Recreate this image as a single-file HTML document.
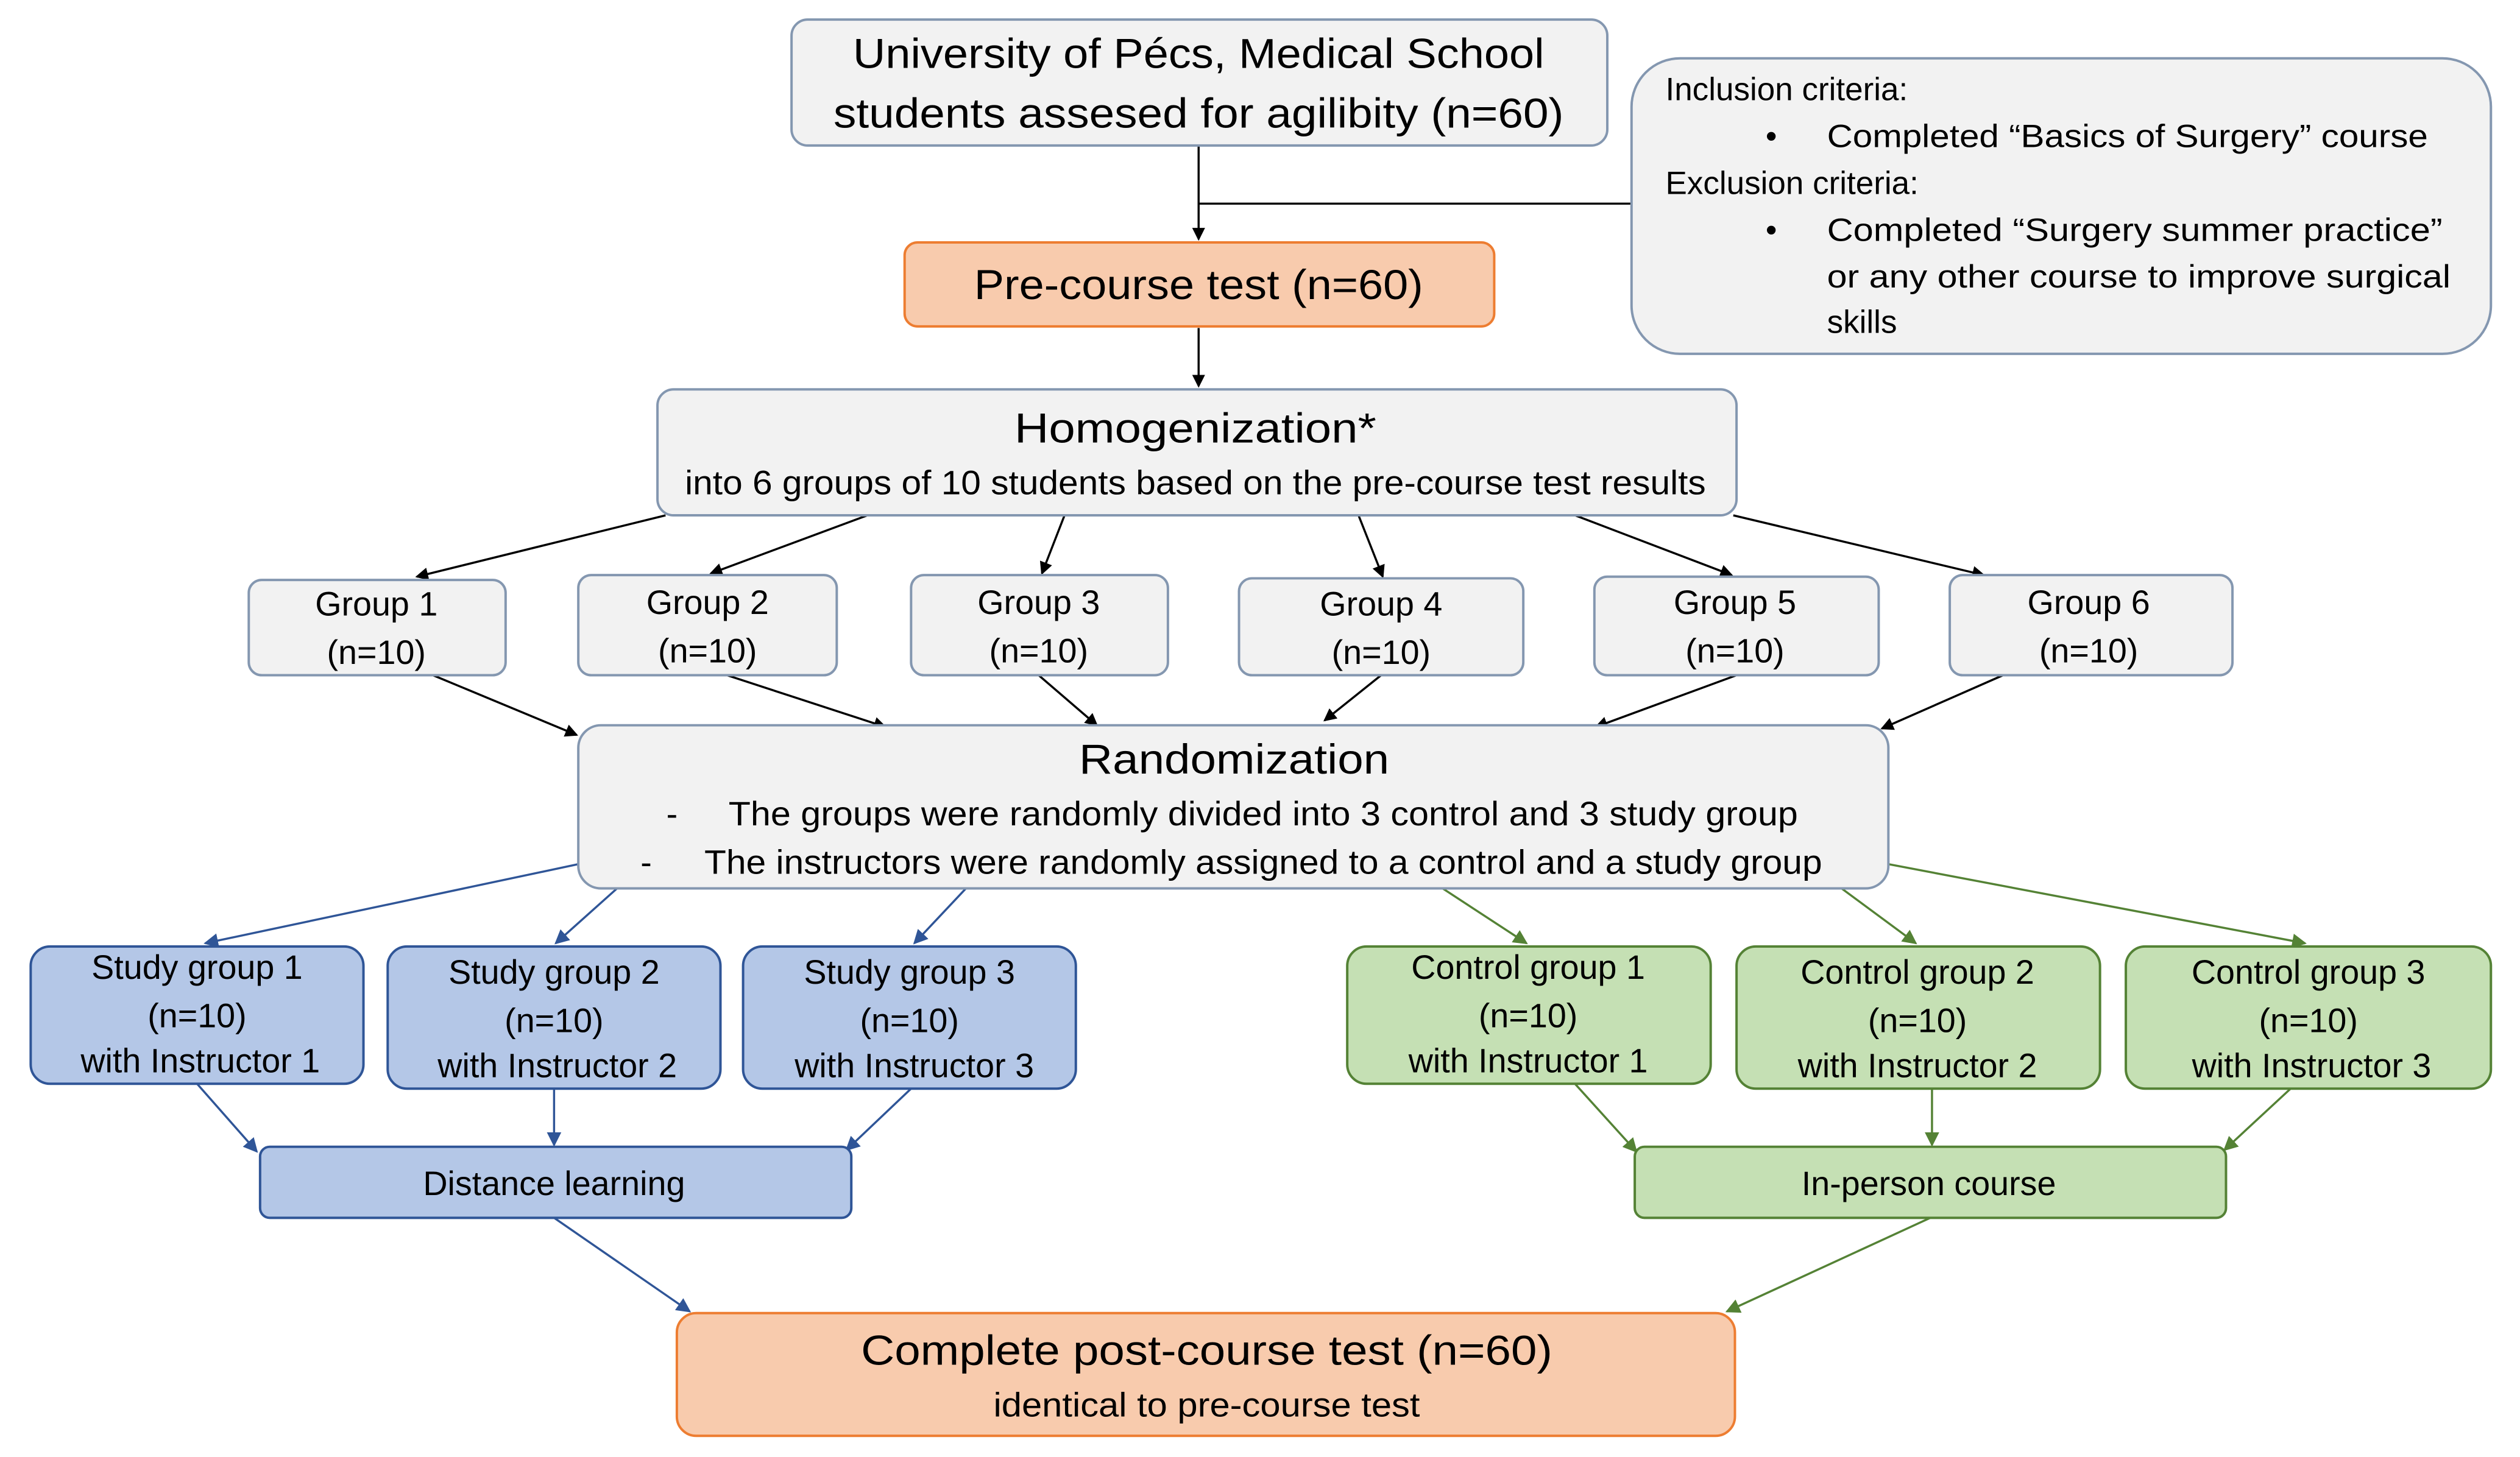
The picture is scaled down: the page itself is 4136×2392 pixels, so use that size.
<!DOCTYPE html>
<html><head><meta charset="utf-8"><style>
html,body{margin:0;padding:0;background:#fff;}
svg{display:block;}
text{font-family:"Liberation Sans Narrow","Liberation Sans",sans-serif;fill:#000;text-anchor:middle;}
</style></head><body>
<svg width="4136" height="2392" viewBox="0 0 1560 902" xmlns="http://www.w3.org/2000/svg">
<defs>
<marker id="ak" markerWidth="8" markerHeight="8" refX="7" refY="4" orient="auto" markerUnits="userSpaceOnUse"><path d="M0,0 L8,4 L0,8z" fill="#000"/></marker>
<marker id="ab" markerWidth="9" markerHeight="9" refX="8" refY="4.5" orient="auto" markerUnits="userSpaceOnUse"><path d="M0,0 L9,4.5 L0,9z" fill="#2f5597"/></marker>
<marker id="ag" markerWidth="9" markerHeight="9" refX="8" refY="4.5" orient="auto" markerUnits="userSpaceOnUse"><path d="M0,0 L9,4.5 L0,9z" fill="#548235"/></marker>
</defs>
<rect width="1560" height="902" fill="#fff"/>
<!-- black connectors -->
<g stroke="#000" stroke-width="1.3" fill="none">
<line x1="742" y1="90" x2="742" y2="148" marker-end="url(#ak)"/>
<line x1="742" y1="126" x2="1010" y2="126"/>
<line x1="742" y1="203" x2="742" y2="239" marker-end="url(#ak)"/>
<line x1="412" y1="319" x2="258" y2="357" marker-end="url(#ak)"/>
<line x1="537" y1="319" x2="440" y2="355" marker-end="url(#ak)"/>
<line x1="659" y1="319" x2="645" y2="355" marker-end="url(#ak)"/>
<line x1="841" y1="319" x2="856" y2="357" marker-end="url(#ak)"/>
<line x1="975" y1="319" x2="1072" y2="356" marker-end="url(#ak)"/>
<line x1="1073" y1="319" x2="1228" y2="356" marker-end="url(#ak)"/>
<line x1="268" y1="418" x2="357" y2="455" marker-end="url(#ak)"/>
<line x1="450" y1="418" x2="548" y2="450" marker-end="url(#ak)"/>
<line x1="643" y1="418" x2="679" y2="449" marker-end="url(#ak)"/>
<line x1="855" y1="418" x2="820" y2="446" marker-end="url(#ak)"/>
<line x1="1075" y1="418" x2="988" y2="450" marker-end="url(#ak)"/>
<line x1="1240" y1="418" x2="1165" y2="451" marker-end="url(#ak)"/>
</g>
<g stroke="#2f5597" stroke-width="1.3" fill="none">
<line x1="358" y1="535" x2="127" y2="584" marker-end="url(#ab)"/>
<line x1="382" y1="550" x2="344" y2="584" marker-end="url(#ab)"/>
<line x1="598" y1="550" x2="566" y2="584" marker-end="url(#ab)"/>
<line x1="122" y1="671" x2="159" y2="713" marker-end="url(#ab)"/>
<line x1="343" y1="674" x2="343" y2="709" marker-end="url(#ab)"/>
<line x1="564" y1="674" x2="524" y2="712" marker-end="url(#ab)"/>
<line x1="343" y1="754" x2="427" y2="812" marker-end="url(#ab)"/>
</g>
<g stroke="#548235" stroke-width="1.3" fill="none">
<line x1="893" y1="550" x2="945" y2="584" marker-end="url(#ag)"/>
<line x1="1140" y1="550" x2="1186" y2="584" marker-end="url(#ag)"/>
<line x1="1169" y1="535" x2="1427" y2="584" marker-end="url(#ag)"/>
<line x1="975" y1="671" x2="1013" y2="713" marker-end="url(#ag)"/>
<line x1="1196" y1="674" x2="1196" y2="709" marker-end="url(#ag)"/>
<line x1="1418" y1="674" x2="1377" y2="712" marker-end="url(#ag)"/>
<line x1="1195" y1="754" x2="1069" y2="812" marker-end="url(#ag)"/>
</g>
<!-- boxes -->
<g stroke-width="1.5">
<rect x="490" y="12" width="505" height="78" rx="10" fill="#f2f2f2" stroke="#8497b0"/>
<rect x="1010" y="36" width="532" height="183" rx="30" fill="#f2f2f2" stroke="#8497b0"/>
<rect x="560" y="150" width="365" height="52" rx="8" fill="#f8cbad" stroke="#ed7d31"/>
<rect x="407" y="241" width="668" height="78" rx="10" fill="#f2f2f2" stroke="#8497b0"/>
<rect x="154" y="359" width="159" height="59" rx="8" fill="#f2f2f2" stroke="#8497b0"/>
<rect x="358" y="356" width="160" height="62" rx="8" fill="#f2f2f2" stroke="#8497b0"/>
<rect x="564" y="356" width="159" height="62" rx="8" fill="#f2f2f2" stroke="#8497b0"/>
<rect x="767" y="358" width="176" height="60" rx="8" fill="#f2f2f2" stroke="#8497b0"/>
<rect x="987" y="357" width="176" height="61" rx="8" fill="#f2f2f2" stroke="#8497b0"/>
<rect x="1207" y="356" width="175" height="62" rx="8" fill="#f2f2f2" stroke="#8497b0"/>
<rect x="358" y="449" width="811" height="101" rx="14" fill="#f2f2f2" stroke="#8497b0"/>
<rect x="19" y="586" width="206" height="85" rx="12" fill="#b4c7e7" stroke="#2f5597"/>
<rect x="240" y="586" width="206" height="88" rx="12" fill="#b4c7e7" stroke="#2f5597"/>
<rect x="460" y="586" width="206" height="88" rx="12" fill="#b4c7e7" stroke="#2f5597"/>
<rect x="834" y="586" width="225" height="85" rx="12" fill="#c5e0b4" stroke="#548235"/>
<rect x="1075" y="586" width="225" height="88" rx="12" fill="#c5e0b4" stroke="#548235"/>
<rect x="1316" y="586" width="226" height="88" rx="12" fill="#c5e0b4" stroke="#548235"/>
<rect x="161" y="710" width="366" height="44" rx="6" fill="#b4c7e7" stroke="#2f5597"/>
<rect x="1012" y="710" width="366" height="44" rx="6" fill="#c5e0b4" stroke="#548235"/>
<rect x="419" y="813" width="655" height="76" rx="12" fill="#f8cbad" stroke="#ed7d31"/>
</g>
<!-- text -->
<g font-size="26">
<text x="742" y="42" textLength="428" lengthAdjust="spacingAndGlyphs">University of Pécs, Medical School</text>
<text x="742" y="79" textLength="452" lengthAdjust="spacingAndGlyphs">students assesed for agilibity (n=60)</text>
<text x="742" y="185" textLength="278" lengthAdjust="spacingAndGlyphs">Pre-course test (n=60)</text>
<text x="740" y="274" textLength="224" lengthAdjust="spacingAndGlyphs">Homogenization*</text>
<text x="764" y="479" textLength="192" lengthAdjust="spacingAndGlyphs">Randomization</text>
<text x="747" y="845" textLength="428" lengthAdjust="spacingAndGlyphs">Complete post-course test  (n=60)</text>
</g>
<g font-size="21">
<text x="740" y="306" textLength="632" lengthAdjust="spacingAndGlyphs">into 6 groups of 10 students based on the pre-course test results</text>
<text x="233" y="381">Group 1</text><text x="233" y="411">(n=10)</text>
<text x="438" y="380">Group 2</text><text x="438" y="410">(n=10)</text>
<text x="643" y="380">Group 3</text><text x="643" y="410">(n=10)</text>
<text x="855" y="381">Group 4</text><text x="855" y="411">(n=10)</text>
<text x="1074" y="380">Group 5</text><text x="1074" y="410">(n=10)</text>
<text x="1293" y="380">Group 6</text><text x="1293" y="410">(n=10)</text>
<text x="416" y="511">-</text>
<text x="782" y="511" textLength="662" lengthAdjust="spacingAndGlyphs">The groups were randomly divided into 3 control and 3 study group</text>
<text x="400" y="541">-</text>
<text x="782" y="541" textLength="692" lengthAdjust="spacingAndGlyphs">The instructors were randomly assigned to a control and a study group</text>
<text x="122" y="606">Study  group 1</text><text x="122" y="636">(n=10)</text><text x="124" y="664">with Instructor 1</text>
<text x="343" y="609">Study group 2</text><text x="343" y="639">(n=10)</text><text x="345" y="667">with Instructor 2</text>
<text x="563" y="609">Study  group 3</text><text x="563" y="639">(n=10)</text><text x="566" y="667">with Instructor 3</text>
<text x="946" y="606">Control  group 1</text><text x="946" y="636">(n=10)</text><text x="946" y="664">with Instructor 1</text>
<text x="1187" y="609">Control group 2</text><text x="1187" y="639">(n=10)</text><text x="1187" y="667">with Instructor 2</text>
<text x="1429" y="609">Control  group 3</text><text x="1429" y="639">(n=10)</text><text x="1431" y="667">with Instructor 3</text>
<text x="343" y="740">Distance learning</text>
<text x="1194" y="740">In-person course</text>
<text x="747" y="877" textLength="264" lengthAdjust="spacingAndGlyphs">identical to pre-course test</text>
</g>
<g font-size="20" style="text-anchor:start">
<text x="1031" y="62" style="text-anchor:start">Inclusion criteria:</text>
<text x="1093" y="91" style="text-anchor:start">•</text>
<text x="1131" y="91" style="text-anchor:start" textLength="372" lengthAdjust="spacingAndGlyphs">Completed “Basics of Surgery” course</text>
<text x="1031" y="120" style="text-anchor:start">Exclusion criteria:</text>
<text x="1093" y="149" style="text-anchor:start">•</text>
<text x="1131" y="149" style="text-anchor:start" textLength="381" lengthAdjust="spacingAndGlyphs">Completed “Surgery summer practice”</text>
<text x="1131" y="178" style="text-anchor:start" textLength="386" lengthAdjust="spacingAndGlyphs">or any other course to improve surgical</text>
<text x="1131" y="206" style="text-anchor:start">skills</text>
</g>
</svg>
</body></html>
